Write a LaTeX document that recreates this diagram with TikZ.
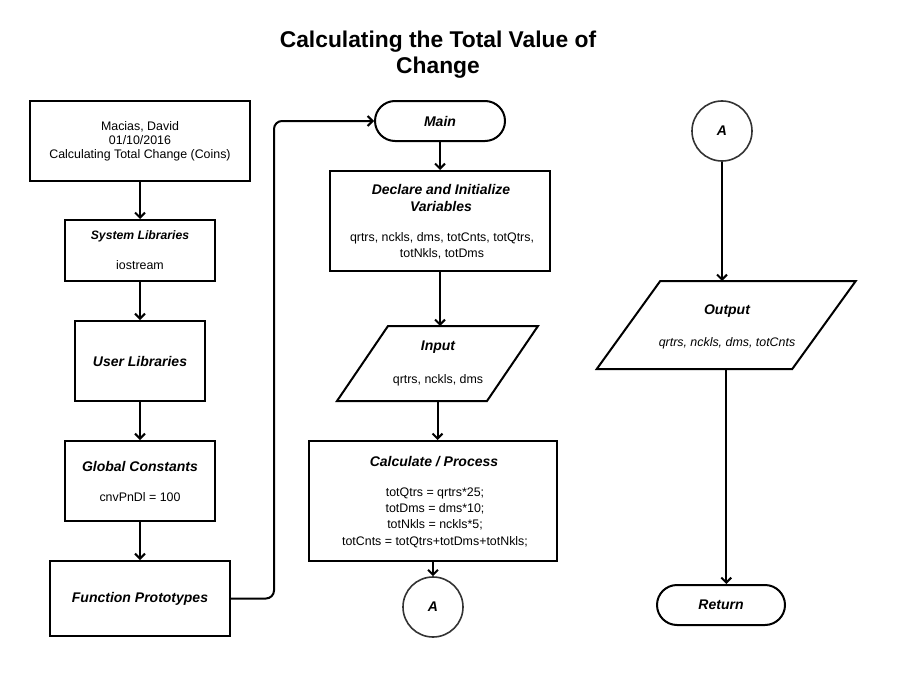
\documentclass[tikz,border=0pt]{standalone}
\usepackage{fontspec}
\setmainfont{Liberation Sans}
\usetikzlibrary{arrows.meta}
\begin{document}
\begin{tikzpicture}[x=1pt,y=-1pt,
  box/.style={draw=black, line width=2pt, fill=white, inner sep=0pt},
  term/.style={box, rounded corners=20pt},
  conn/.style={draw=black!80, line width=1.6pt, circle, minimum size=60pt, inner sep=0pt, fill=white},
  anchorbox/.style={inner sep=0pt, outer sep=0pt},
  shp/.style={draw=black, line width=2pt, fill=white, line join=miter},
  arr/.style={line width=2pt, -{Straight Barb[length=5pt,width=10pt]}},
  t12/.style={font=\fontsize{12.4}{14}\selectfont, align=center, inner sep=0pt},
  h12/.style={font=\fontsize{12.2}{14}\selectfont\bfseries\itshape, align=center, inner sep=0pt},
  h14/.style={font=\fontsize{14}{17}\selectfont\bfseries\itshape, align=center, inner sep=0pt},
  ttl/.style={font=\fontsize{22.8}{26}\selectfont\bfseries, align=center, inner sep=0pt}
]
\fill[white] (0,0) rectangle (908,677);
\useasboundingbox (0,0) rectangle (908,677);

% title
\node[ttl] (title) at (438,55) {Calculating the Total Value of\\Change};

% left column
\node[box, t12, minimum width=220pt, minimum height=80pt] (hdr) at (140,141)
  {Macias, David\\01/10/2016\\Calculating Total Change (Coins)};
\node[box, minimum width=150pt, minimum height=61pt] (sys) at (140,250.5) {};
\node[h12] (sysh) at (140,236) {System Libraries};
\node[t12] (syst) at (140,265) {iostream};
\node[box, h14, minimum width=130pt, minimum height=80pt] (usr) at (140,361) {User Libraries};
\node[box, minimum width=150pt, minimum height=80pt] (glob) at (140,481) {};
\node[h14] (globh) at (140,466) {Global Constants};
\node[t12] (globt) at (140,497) {cnvPnDl = 100};
\node[box, h14, minimum width=180pt, minimum height=75pt] (fp) at (140,598.5) {Function Prototypes};

% middle column
\node[term, h14, minimum width=130pt, minimum height=40pt] (main) at (440,121) {Main};
\node[box, minimum width=220pt, minimum height=100pt] (decl) at (440,221) {};
\node[h14] (declh) at (441,197.5) {Declare and Initialize\\Variables};
\node[font=\fontsize{12.4}{16}\selectfont, align=center, inner sep=0pt] (declt) at (442,246)
  {qrtrs, nckls, dms, totCnts, totQtrs,\\totNkls, totDms};

\node[anchorbox, minimum width=150pt, minimum height=75pt] (inp) at (437.5,363.5) {};
\draw[shp] ([xshift=25.5pt]inp.north west) -- ([xshift=25.5pt]inp.north east)
  -- ([xshift=-25.5pt]inp.south east) -- ([xshift=-25.5pt]inp.south west) -- cycle;
\node[h14] (inph) at (438,347) {Input};
\node[t12] (inpt) at (438,380) {qrtrs, nckls, dms};

\node[box, minimum width=248pt, minimum height=120pt] (calc) at (433,501) {};
\node[h14] (calch) at (434,462) {Calculate / Process};
\node[font=\fontsize{12.4}{16.3}\selectfont, align=center, inner sep=0pt] (calct) at (435,517.5)
  {totQtrs = qrtrs*25;\\totDms = dms*10;\\totNkls = nckls*5;\\totCnts = totQtrs+totDms+totNkls;};

\node[conn, h14] (A1) at (433,607) {A};

% right column
\node[conn, h14] (A2) at (722,131) {A};
\node[anchorbox, minimum width=195.5pt, minimum height=88pt] (out) at (726.25,325) {};
\draw[shp] ([xshift=31.75pt]out.north west) -- ([xshift=31.75pt]out.north east)
  -- ([xshift=-31.75pt]out.south east) -- ([xshift=-31.75pt]out.south west) -- cycle;
\node[h14] (outh) at (727,311) {Output};
\node[font=\fontsize{12.4}{14}\selectfont\itshape, inner sep=0pt] (outt) at (727,343) {qrtrs, nckls, dms, totCnts};
\node[term, h14, minimum width=128pt, minimum height=40pt] (ret) at (721,605) {Return};

% connectors
\draw[arr] (hdr) -- (sys);
\draw[arr] (sys) -- (usr);
\draw[arr] (usr) -- (glob);
\draw[arr] (glob) -- (fp);
\coordinate (bend) at (274,0);
\draw[arr, rounded corners=8pt] (fp.east) -- (fp.east -| bend) -- (bend |- main.west) -- (main.west);
\draw[arr] (main) -- (decl);
\draw[arr] (decl.south) -- (decl.south |- inp.north);
\draw[arr] (inp.south) -- (inp.south |- calc.north);
\draw[arr] (calc.south) -- (A1.north);
\draw[arr] (A2.south) -- (A2.south |- out.north);
\draw[arr] (out.south) -- (out.south |- ret.north);
\end{tikzpicture}
\end{document}
